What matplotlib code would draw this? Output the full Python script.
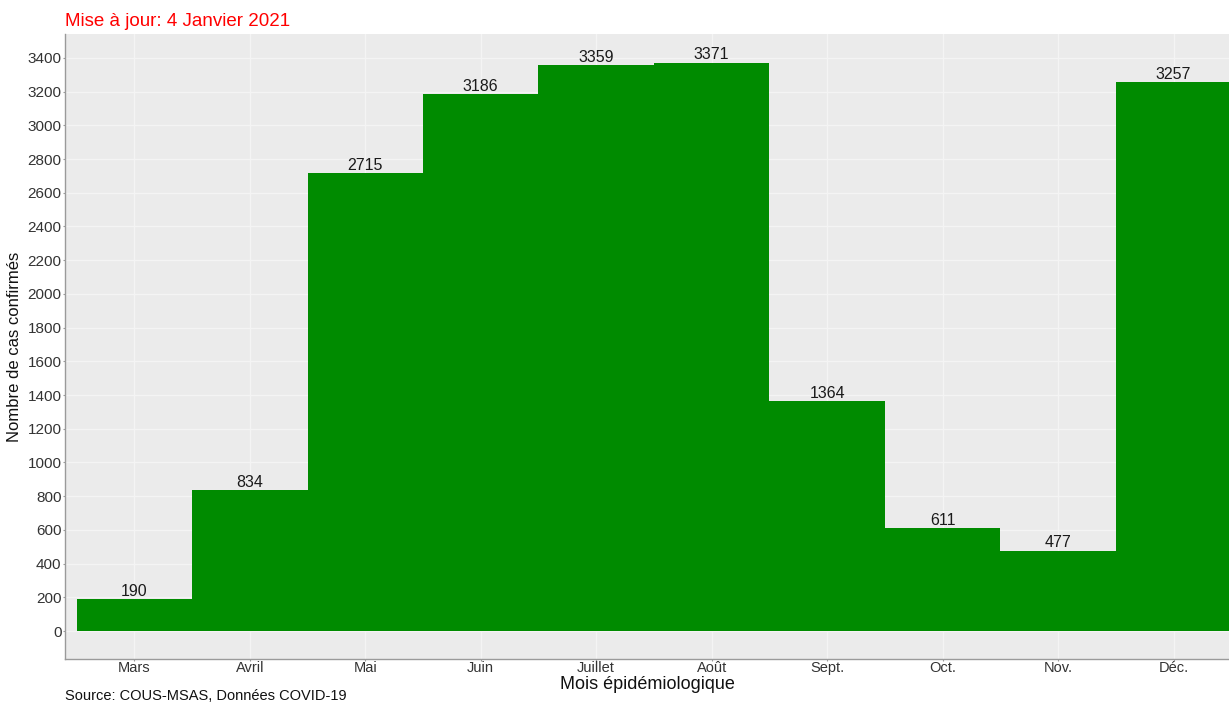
import matplotlib.pyplot as plt
import numpy as np

# Data
months = ["Mars", "Avril", "Mai", "Juin", "Juillet", "Août", "Sept.", "Oct.", "Nov.", "Déc."]
cases = [190, 834, 2715, 3186, 3359, 3371, 1364, 611, 477, 3257]
y_ticks = list(range(0, 3401, 200))

plt.rcParams["font.family"] = ["Liberation Sans", "DejaVu Sans"]

fig = plt.figure(figsize=(12.29, 7.02), dpi=100)
ax = fig.add_axes([65 / 1229, 43 / 702, 1 - 65 / 1229, (659 - 34) / 702])

x = np.arange(len(months))
ax.set_facecolor("#EBEBEB")
ax.bar(x, cases, width=1.0, color="#008B00", zorder=3)

for xi, v in zip(x, cases):
    ax.text(xi, v + 2, str(v), ha="center", va="bottom", fontsize=11.5,
            color="#1a1a1a", zorder=4)

ax.set_xlim(-0.6, 9.48)
ax.set_ylim(-166, 3542)
ax.set_xticks(x)
ax.set_xticklabels(months, fontsize=10.5, color="#333333")
ax.set_yticks(y_ticks)
ax.set_yticklabels([str(t) for t in y_ticks], fontsize=11, color="#333333")

ax.grid(which="major", color="#F4F4F4", linewidth=0.9, zorder=0)
ax.set_axisbelow(True)
ax.tick_params(axis="y", length=1.5, color="#9a9a9a", pad=1)
ax.tick_params(axis="x", length=1.5, color="#9a9a9a", pad=0)

for side in ["top", "right"]:
    ax.spines[side].set_visible(False)
for side in ["left", "bottom"]:
    ax.spines[side].set_color("#9a9a9a")
    ax.spines[side].set_linewidth(1.0)

ax.set_xlabel("Mois épidémiologique", fontsize=13, labelpad=1, color="#111111")
ax.set_ylabel("Nombre de cas confirmés", fontsize=12, labelpad=4, color="#111111")

fig.text(65 / 1229, 1 - 22 / 702, "Mise à jour: 4 Janvier 2021", color="red",
         fontsize=13.5, ha="left", va="center")
fig.text(65 / 1229, 1 - 696 / 702, "Source: COUS-MSAS, Données COVID-19",
         color="#111111", fontsize=10.5, ha="left", va="center")

fig.savefig("out.png", dpi=100)
